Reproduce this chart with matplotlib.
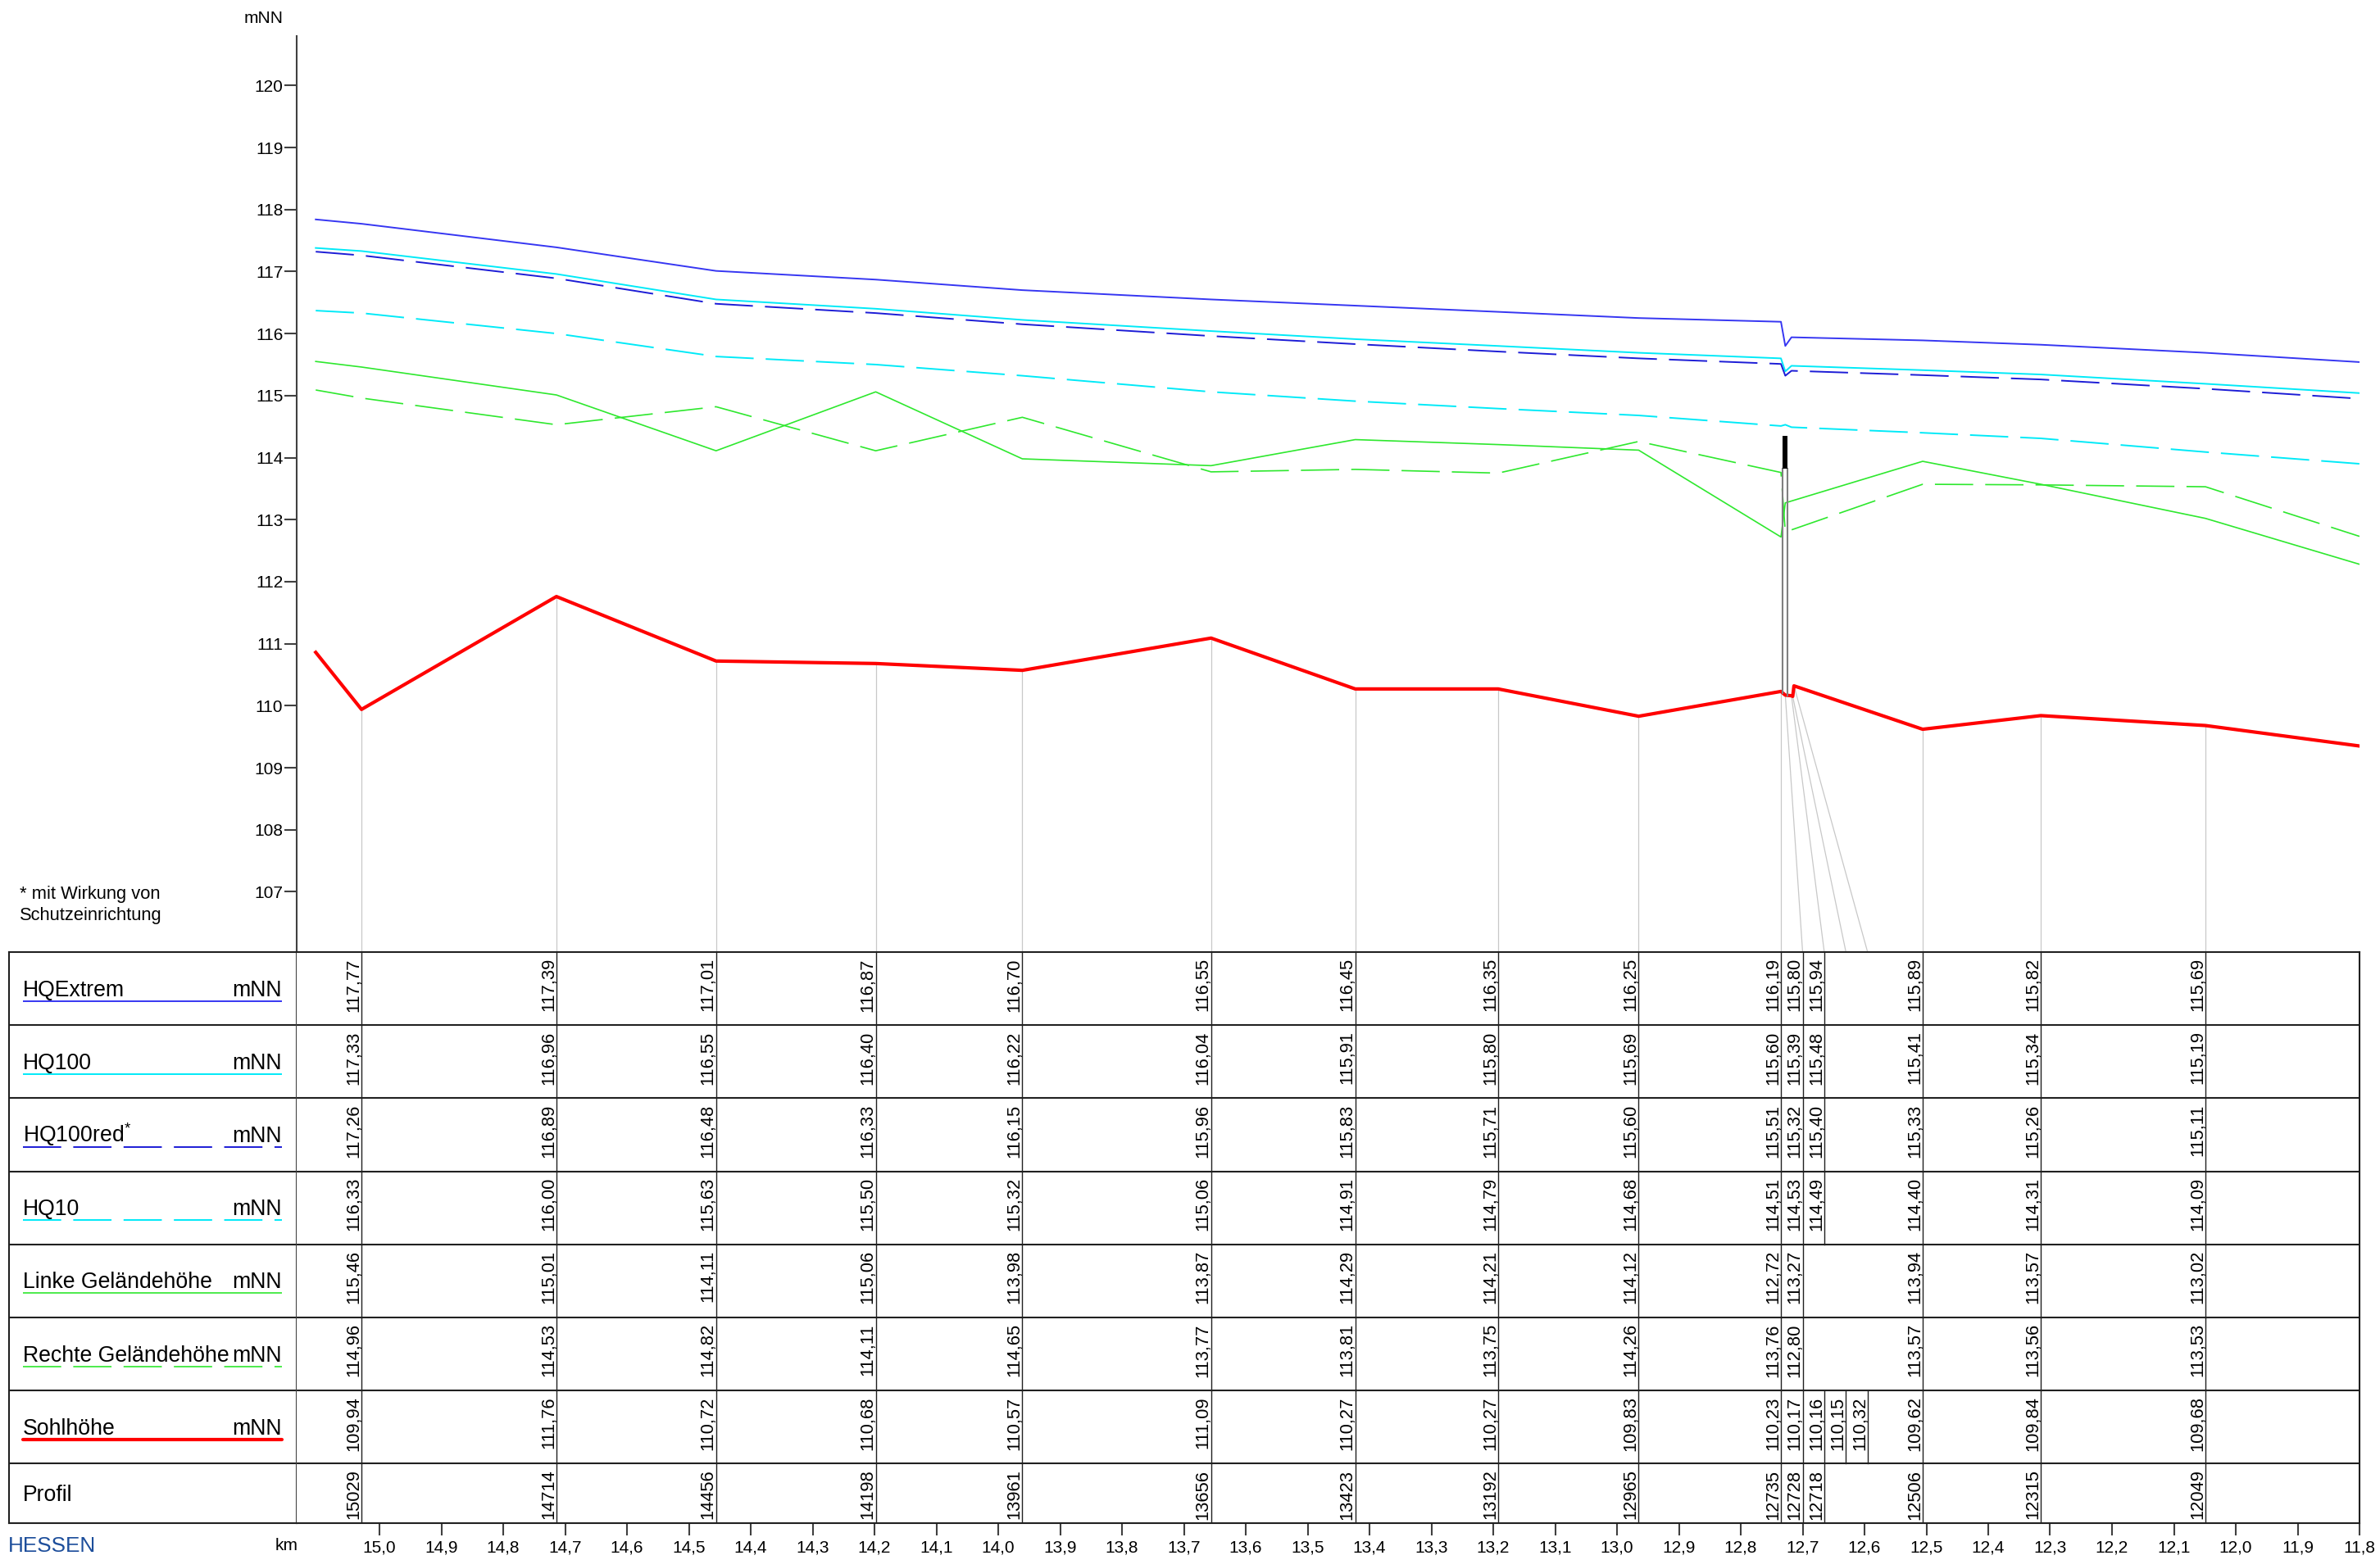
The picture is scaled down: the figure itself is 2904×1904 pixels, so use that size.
import numpy as np
import matplotlib
matplotlib.use("Agg")
import matplotlib.pyplot as plt

plt.rcParams["font.family"] = ["Liberation Sans", "DejaVu Sans"]
plt.rcParams["lines.scale_dashes"] = False
plt.rcParams["mathtext.fontset"] = "custom"
plt.rcParams["mathtext.rm"] = "Liberation Sans"
plt.rcParams["mathtext.it"] = "Liberation Sans"

# river km of every table column (last two are extra bed points at the bridge)
col_km = [15.029, 14.714, 14.456, 14.198, 13.961, 13.656, 13.423, 13.192, 12.965,
          12.735, 12.728, 12.718, 12.716, 12.714, 12.506, 12.315, 12.049]
profil = [15029, 14714, 14456, 14198, 13961, 13656, 13423, 13192, 12965,
          12735, 12728, 12718, None, None, 12506, 12315, 12049]

hq_extrem = [117.77, 117.39, 117.01, 116.87, 116.70, 116.55, 116.45, 116.35, 116.25,
             116.19, 115.80, 115.94, None, None, 115.89, 115.82, 115.69]
hq100 = [117.33, 116.96, 116.55, 116.40, 116.22, 116.04, 115.91, 115.80, 115.69,
         115.60, 115.39, 115.48, None, None, 115.41, 115.34, 115.19]
hq100red = [117.26, 116.89, 116.48, 116.33, 116.15, 115.96, 115.83, 115.71, 115.60,
            115.51, 115.32, 115.40, None, None, 115.33, 115.26, 115.11]
hq10 = [116.33, 116.00, 115.63, 115.50, 115.32, 115.06, 114.91, 114.79, 114.68,
        114.51, 114.53, 114.49, None, None, 114.40, 114.31, 114.09]
linke = [115.46, 115.01, 114.11, 115.06, 113.98, 113.87, 114.29, 114.21, 114.12,
         112.72, 113.27, None, None, None, 113.94, 113.57, 113.02]
rechte = [114.96, 114.53, 114.82, 114.11, 114.65, 113.77, 113.81, 113.75, 114.26,
          113.76, 112.80, None, None, None, 113.57, 113.56, 113.53]
sohl = [109.94, 111.76, 110.72, 110.68, 110.57, 111.09, 110.27, 110.27, 109.83,
        110.23, 110.17, 110.16, 110.15, 110.32, 109.62, 109.84, 109.68]

# values where the lines meet the plot edges
km_start, km_end = 15.103, 11.80
start_vals = [117.84, 117.38, 117.32, 116.37, 115.55, 115.09, 110.86]
end_vals = [115.54, 115.04, 114.95, 113.90, 112.28, 112.73, 109.35]

# bridge
bridge_km = [12.732, 12.724]
bridge_top, bridge_uk = 114.35, 113.82

y_ticks = list(range(107, 121))
km_ticks = np.round(np.arange(15.0, 11.75, -0.1), 1)

# ---- layout (pixels of the 2904x1904 picture)
W, H, DPI = 2904, 1904, 200
fig = plt.figure(figsize=(W / DPI, H / DPI), dpi=DPI)


def px_axes(x0, y0, x1, y1):
    return fig.add_axes([x0 / W, 1 - y1 / H, (x1 - x0) / W, (y1 - y0) / H])


X_LEFT, X_AXIS, X_RIGHT = 11, 362, 2879
Y_TOP, TAB_TOP, TAB_BOT = 44, 1162, 1859
PX_PER_KM, PX_PER_M, Y120 = 755, 75.7, 104.3
km_left = km_end + (X_RIGHT - X_AXIS) / PX_PER_KM
ROW_H = 89.2
DASH = (16.8, 5.3)
AXCOL = "#404040"

blue, dblue, cyan, green, red = "#3636f2", "#1c1cd6", "#00eaf8", "#2ee82e", "#ff0000"

ax = px_axes(X_AXIS, Y_TOP, X_RIGHT, TAB_TOP)
ax.set_xlim(km_left, km_end)
ax.set_ylim(120 - (TAB_TOP - Y120) / PX_PER_M, 120 + (Y120 - Y_TOP) / PX_PER_M)
for s in ["top", "right", "bottom"]:
    ax.spines[s].set_visible(False)
ax.spines["left"].set_color(AXCOL)
ax.spines["left"].set_linewidth(0.75)
ax.set_xticks([])
ax.set_yticks(y_ticks)
ax.set_yticklabels([str(t) for t in y_ticks])
ax.tick_params(axis="y", direction="out", length=5.4, width=0.75, color=AXCOL,
               labelsize=7.5, pad=0.6)
ax.patch.set_visible(False)

# display positions of the columns in the table (bridge columns spread out)
col_step = 0.035
disp_km = list(col_km)
for k, i in enumerate(range(10, 14), 1):
    disp_km[i] = col_km[9] - k * col_step

# light drop lines from bed to table
y_bot = ax.get_ylim()[0]
for k, d, s in zip(col_km, disp_km, sohl):
    ax.plot([k, d], [s, y_bot], color="#c8c8c8", lw=0.45, zorder=1, clip_on=False)

series = [
    (hq_extrem, blue, 0.7, False),
    (hq100, cyan, 0.7, False),
    (hq100red, dblue, 0.7, True),
    (hq10, cyan, 0.7, True),
    (linke, green, 0.6, False),
    (rechte, green, 0.6, True),
    (sohl, red, 1.5, False),
]
for (vals, color, lw, dashed), v0, v1 in zip(series, start_vals, end_vals):
    xs = [km_start] + [k for k, v in zip(col_km, vals) if v is not None] + [km_end]
    ys = [v0] + [v for v in vals if v is not None] + [v1]
    line, = ax.plot(xs, ys, color=color, lw=lw, zorder=3)
    if dashed:
        line.set_dashes(DASH)

# bridge
sohl_xs = [km_start] + col_km + [km_end]
sohl_ys = [start_vals[-1]] + sohl + [end_vals[-1]]
for bk in bridge_km:
    bed = np.interp(-bk, [-k for k in sohl_xs], sohl_ys)
    ax.plot([bk, bk], [bed, bridge_uk], color="#808080", lw=0.75, zorder=4)
ax.fill_between(bridge_km, bridge_uk, bridge_top, color="black", lw=0, zorder=5)

fig.text(322 / W, 1 - 22 / H, "mNN", ha="center", va="center", fontsize=7.5)
fig.text(24 / W, 1 - 1081 / H, "* mit Wirkung von\nSchutzeinrichtung", ha="left", va="top",
         fontsize=7.9, linespacing=1.3, family=["Liberation Sans Narrow", "Liberation Sans"])

# ---- table
tab_h = TAB_BOT - TAB_TOP
rows = [
    ("HQExtrem", "mNN", hq_extrem, blue, 0.7, False),
    ("HQ100", "mNN", hq100, cyan, 0.7, False),
    ("HQ100red$^{*}$", "mNN", hq100red, dblue, 0.7, True),
    ("HQ10", "mNN", hq10, cyan, 0.7, True),
    ("Linke Geländehöhe", "mNN", linke, green, 0.6, False),
    ("Rechte Geländehöhe", "mNN", rechte, green, 0.6, True),
    ("Sohlhöhe", "mNN", sohl, red, 1.5, False),
    ("Profil", "", profil, None, 0, False),
]
row_tops = [i * ROW_H for i in range(len(rows))] + [tab_h]

ax_lab = px_axes(X_LEFT, TAB_TOP, X_AXIS, TAB_BOT)
ax_lab.set_xlim(0, X_AXIS - X_LEFT)
ax_lab.set_ylim(tab_h, 0)
ax_lab.set_xticks([])
ax_lab.set_yticks([])
ax_tab = px_axes(X_AXIS, TAB_TOP, X_RIGHT, TAB_BOT)
ax_tab.set_xlim(km_left, km_end)
ax_tab.set_ylim(tab_h, 0)
ax_tab.set_yticks([])
ax_tab.spines["left"].set_visible(False)
for a in (ax_lab, ax_tab):
    for s in a.spines.values():
        s.set_linewidth(0.75)
        s.set_color("#202020")
ax_lab.spines["right"].set_color(AXCOL)

for r, (name, unit, vals, color, lw, dashed) in enumerate(rows):
    top, bot = row_tops[r], row_tops[r + 1]
    if r > 0:
        ax_lab.axhline(top, color="#202020", lw=0.75)
        ax_tab.axhline(top, color="#202020", lw=0.75)
    base = (top + bot) / 2 + 9
    ax_lab.text(17, base, name, ha="left", va="baseline", fontsize=9.6)
    if unit:
        ax_lab.text(333, base, unit, ha="right", va="baseline", fontsize=9.6)
    if color:
        ul, = ax_lab.plot([17, 333], [base + 6, base + 6], color=color, lw=lw,
                          solid_capstyle="round" if lw > 1 else "butt")
        if dashed:
            ul.set_dashes(DASH)
    for d, v in zip(disp_km, vals):
        if v is None:
            continue
        ax_tab.plot([d, d], [top, bot], color="#202020", lw=0.5)
        label = str(v) if isinstance(v, int) else f"{v:.2f}".replace(".", ",")
        ax_tab.annotate(label, (d, top), xytext=(0.4, -2.6), textcoords="offset points",
                        rotation=90, ha="right", va="top", fontsize=7.9)

ax_tab.set_xticks(km_ticks)
ax_tab.set_xticklabels([f"{t:.1f}".replace(".", ",") for t in km_ticks])
ax_tab.tick_params(axis="x", direction="out", length=5.4, width=0.75, color=AXCOL,
                   labelsize=7.5, pad=2)

fig.text(350 / W, 1 - 1887 / H, "km", ha="center", va="center", fontsize=7.5)
fig.text(10 / W, 1 - 1887 / H, "HESSEN", ha="left", va="center", fontsize=9.4,
         color="#1d4e9b")

fig.savefig("out.png", dpi=DPI, facecolor="white")
